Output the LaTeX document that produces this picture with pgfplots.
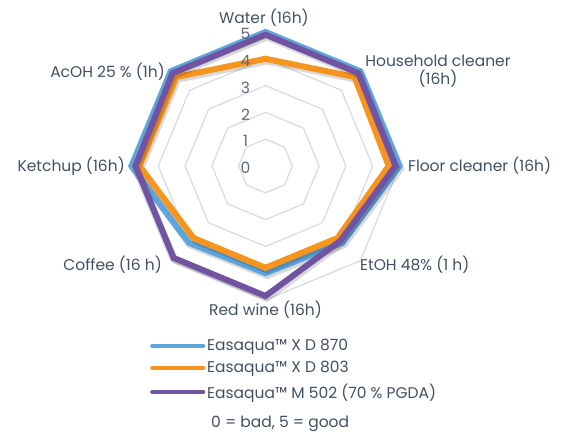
\documentclass[border=0pt]{standalone}
\usepackage{fontspec}
\setmainfont{Poppins}
\usepackage{pgfplots}
\pgfplotsset{compat=1.18}
\usepgfplotslibrary{polar}

\definecolor{seriesblue}{HTML}{5DA5DA}
\definecolor{seriesorange}{HTML}{F7941D}
\definecolor{seriespurple}{HTML}{7153A2}
\definecolor{gridgray}{HTML}{D9DCE5}
\definecolor{labeltext}{HTML}{415063}

\begin{document}
\begin{tikzpicture}[font=\fontsize{15.5}{18}\selectfont, text=labeltext]
% page frame, origin at the centre of the radar
\path (-265.5pt,-265pt) rectangle (302.5pt,166pt);
\begin{polaraxis}[
    at={(0pt,0pt)}, anchor=center,
    scale only axis, width=268pt, height=268pt,
    ymin=0, ymax=5,
    hide axis, clip=false,
    ring/.style={gridgray, line width=1.3pt, line join=miter, forget plot},
    shadow/.style={black, opacity=0.15, line width=6.5pt, line join=miter,
                   xshift=1.5pt, yshift=-2.5pt, forget plot},
    series/.style={line width=6pt, line join=miter, mark=none},
    legend style={at={(0.069,-0.138)}, anchor=north west, draw=none, fill=none,
                  inner sep=0pt, row sep=5.5pt, cells={anchor=west},
                  font=\fontsize{15.5}{18}\selectfont, text=labeltext},
    legend image code/.code={\draw[#1, line width=4pt, line cap=round] (2pt,0pt) -- (53pt,0pt);},
]
% grid rings 1..5
\addplot[ring] coordinates {(90,1) (45,1) (0,1) (315,1) (270,1) (225,1) (180,1) (135,1) (90,1) (45,1)};
\addplot[ring] coordinates {(90,2) (45,2) (0,2) (315,2) (270,2) (225,2) (180,2) (135,2) (90,2) (45,2)};
\addplot[ring] coordinates {(90,3) (45,3) (0,3) (315,3) (270,3) (225,3) (180,3) (135,3) (90,3) (45,3)};
\addplot[ring] coordinates {(90,4) (45,4) (0,4) (315,4) (270,4) (225,4) (180,4) (135,4) (90,4) (45,4)};
\addplot[ring] coordinates {(90,5) (45,5) (0,5) (315,5) (270,5) (225,5) (180,5) (135,5) (90,5) (45,5)};

% order: Water, Household, Floor, EtOH, Red wine, Coffee, Ketchup, AcOH
\addplot[shadow] coordinates {(90,5) (45,5) (0,5) (315,4.05) (270,4.0) (225,4.05) (180,5) (135,5) (90,5) (45,5)};
\addplot[series, seriesblue] coordinates {(90,5) (45,5) (0,5) (315,4.05) (270,4.0) (225,4.05) (180,5) (135,5) (90,5) (45,5)};
\addlegendentry{Easaqua™ X D 870}
\addplot[shadow] coordinates {(90,4) (45,4.7) (0,4.6) (315,3.8) (270,3.8) (225,3.8) (180,4.7) (135,4.7) (90,4) (45,4.7)};
\addplot[series, seriesorange] coordinates {(90,4) (45,4.7) (0,4.6) (315,3.8) (270,3.8) (225,3.8) (180,4.7) (135,4.7) (90,4) (45,4.7)};
\addlegendentry{Easaqua™ X D 803}
\addplot[shadow] coordinates {(90,4.9) (45,4.9) (0,4.85) (315,3.95) (270,4.85) (225,4.85) (180,4.85) (135,4.9) (90,4.9) (45,4.9)};
\addplot[series, seriespurple] coordinates {(90,4.9) (45,4.9) (0,4.85) (315,3.95) (270,4.85) (225,4.85) (180,4.85) (135,4.9) (90,4.9) (45,4.9)};
\addlegendentry{Easaqua™ M 502 (70 \% PGDA)}

% radial scale labels
\node[text=labeltext!85] at (axis cs:90,0) [xshift=-20pt, yshift=-2pt] {0};
\node[text=labeltext!85] at (axis cs:90,1) [xshift=-20pt, yshift=-2pt] {1};
\node[text=labeltext!85] at (axis cs:90,2) [xshift=-20pt, yshift=-2pt] {2};
\node[text=labeltext!85] at (axis cs:90,3) [xshift=-20pt, yshift=-2pt] {3};
\node[text=labeltext!85] at (axis cs:90,4) [xshift=-20pt, yshift=-2pt] {4};
\node[text=labeltext!85] at (axis cs:90,5) [xshift=-20pt, yshift=-2pt] {5};
\end{polaraxis}

% category labels
\node at (-1.5pt,148pt) {Water (16h)};
\node[align=center] at (172.5pt,95pt) {Household cleaner\\(16h)};
\node[anchor=west, inner sep=0pt] at (142.5pt,0pt) {Floor cleaner (16h)};
\node[anchor=west, inner sep=0pt] at (94.5pt,-99pt) {EtOH 48\% (1 h)};
\node at (0pt,-144pt) {Red wine (16h)};
\node[anchor=east, inner sep=0pt] at (-103.5pt,-99pt) {Coffee (16 h)};
\node[anchor=east, inner sep=0pt] at (-140.5pt,0pt) {Ketchup (16h)};
\node[anchor=east, inner sep=0pt] at (-100.5pt,94pt) {AcOH 25 \% (1h)};

\node[anchor=west, inner sep=0pt] at (-54.5pt,-258pt) {0 = bad, 5 = good};
\end{tikzpicture}
\end{document}
